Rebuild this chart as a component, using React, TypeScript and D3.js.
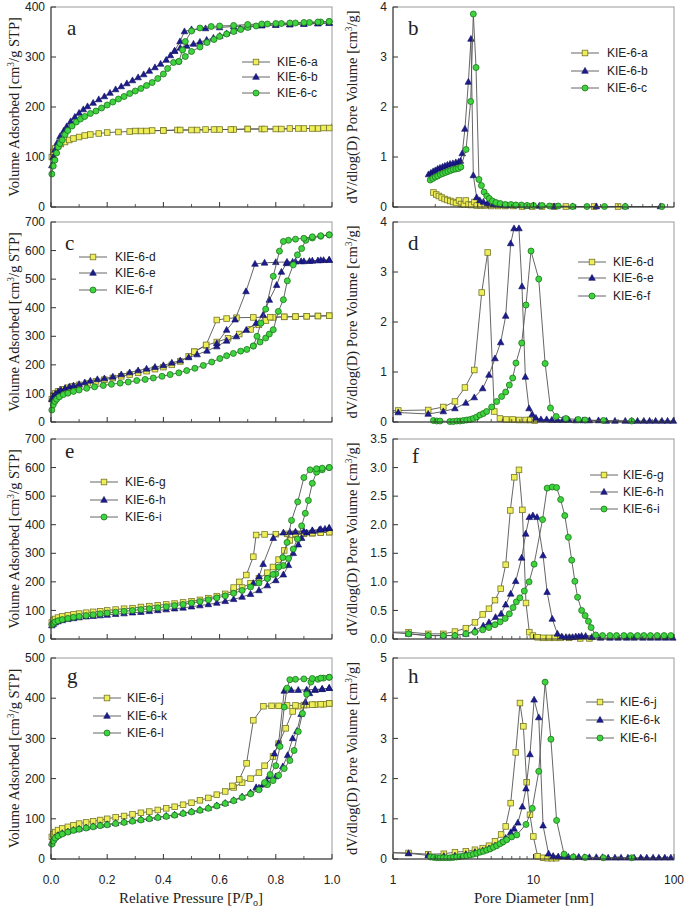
import React from 'react';
import * as d3 from 'd3';

type Pt = [number, number];

// ---------- Panel a : isotherms (P/Po, cm3/g) ----------
const aAds: Pt[] = [[0.003,100],[0.008,110],[0.015,117],[0.025,122],[0.035,126],[0.05,130],[0.065,134],[0.08,137],[0.1,140],[0.12,143],[0.14,145],[0.17,147],[0.2,149],[0.24,150],[0.28,151],[0.32,152],[0.36,153],[0.4,153],[0.45,154],[0.5,154],[0.55,155],[0.6,155],[0.65,155],[0.7,156],[0.75,156],[0.8,156],[0.85,157],[0.9,157],[0.95,157],[0.99,158],[1.03,190]];
const aDes: Pt[] = [[0.97,158],[0.93,157],[0.88,157],[0.82,156],[0.76,156],[0.7,156],[0.64,155],[0.58,155],[0.52,154],[0.46,154],[0.4,153],[0.34,152],[0.3,152]];
const bAds: Pt[] = [[0.003,83],[0.008,100],[0.014,114],[0.022,128],[0.032,141],[0.045,152],[0.056,161],[0.07,171],[0.085,180],[0.1,188],[0.115,195],[0.13,201],[0.15,208],[0.17,215],[0.19,221],[0.21,228],[0.23,235],[0.25,241],[0.27,247],[0.29,253],[0.31,259],[0.33,265],[0.35,272],[0.37,279],[0.39,286],[0.41,294],[0.425,303],[0.44,312],[0.46,318],[0.483,322],[0.507,326],[0.53,330],[0.554,334],[0.578,338],[0.601,342],[0.625,347],[0.649,352],[0.673,357],[0.7,360],[0.75,363],[0.8,364],[0.85,365],[0.9,366],[0.95,367],[0.99,368]];
const bDes: Pt[] = [[0.99,368],[0.95,367],[0.9,366],[0.85,365],[0.8,364],[0.75,363],[0.7,362],[0.65,361],[0.6,359],[0.55,357],[0.5,355],[0.475,351],[0.459,331],[0.44,312]];
const cAds: Pt[] = [[0.003,66],[0.008,82],[0.014,94],[0.02,108],[0.026,120],[0.032,127],[0.04,134],[0.05,145],[0.06,153],[0.075,162],[0.09,170],[0.105,176],[0.12,181],[0.14,187],[0.16,192],[0.18,198],[0.2,204],[0.22,210],[0.24,216],[0.26,221],[0.28,227],[0.3,232],[0.32,237],[0.34,243],[0.36,249],[0.38,257],[0.4,266],[0.415,277],[0.436,289],[0.455,291],[0.478,301],[0.5,311],[0.53,320],[0.555,329],[0.58,335],[0.6,341],[0.625,346],[0.65,351],[0.675,355],[0.7,359],[0.73,362],[0.77,366],[0.82,367],[0.87,368],[0.92,369],[0.96,370],[0.99,371]];
const cDes: Pt[] = [[0.99,371],[0.95,370],[0.9,369],[0.85,368],[0.8,367],[0.75,366],[0.7,365],[0.65,363],[0.6,362],[0.57,361],[0.53,358],[0.5,352],[0.478,331],[0.468,314],[0.455,291]];

// ---------- Panel b : PSD (nm, cm3/g) ----------
const psdA: Pt[] = [[1.94,0.29],[2.03,0.25],[2.12,0.22],[2.22,0.19],[2.33,0.16],[2.44,0.14],[2.56,0.12],[2.68,0.1],[2.81,0.08],[2.95,0.13],[3.05,0.06],[3.2,0.05],[3.3,0.13],[3.45,0.05],[3.6,0.04],[3.8,0.1],[3.95,0.03],[4.2,0.03],[4.5,0.03],[5.0,0.02],[5.6,0.02],[6.3,0.02],[7.2,0.02],[8.3,0.01],[9.8,0.01],[11.5,0.01],[14,0.01],[17,0.01],[27,0.01],[40,0.01]];
const psdB: Pt[] = [[1.79,0.65],[1.86,0.68],[1.93,0.71],[2.0,0.73],[2.08,0.76],[2.16,0.78],[2.25,0.8],[2.34,0.82],[2.44,0.84],[2.55,0.86],[2.67,0.87],[2.8,0.89],[2.93,0.9],[3.02,0.92],[3.11,1.07],[3.25,1.56],[3.44,2.5],[3.59,3.36],[3.73,0.63],[3.94,0.19],[4.15,0.13],[4.4,0.1],[4.7,0.07],[5.2,0.05],[5.8,0.04],[6.5,0.03],[7.5,0.03],[9,0.02],[11,0.02],[14,0.01],[19,0.01],[28,0.01],[45,0.01],[80,0.01]];
const psdC: Pt[] = [[1.84,0.54],[1.92,0.57],[2.0,0.6],[2.08,0.62],[2.17,0.65],[2.26,0.67],[2.36,0.69],[2.46,0.71],[2.57,0.73],[2.68,0.75],[2.8,0.76],[2.92,0.77],[3.04,0.8],[3.31,1.15],[3.57,2.11],[3.73,3.86],[3.9,2.79],[4.09,0.55],[4.26,0.43],[4.45,0.3],[4.65,0.22],[4.85,0.17],[5.1,0.12],[5.4,0.09],[5.8,0.07],[6.3,0.05],[6.9,0.05],[7.5,0.04],[8.2,0.04],[9.0,0.03],[10,0.03],[11.5,0.03],[13,0.02],[15,0.02],[19,0.01],[24,0.01],[32,0.01],[45,0.01],[82,0.01]];

// ---------- Panel c ----------
const dAds: Pt[] = [[0.003,80],[0.008,92],[0.015,100],[0.025,107],[0.04,114],[0.06,120],[0.08,125],[0.1,130],[0.13,136],[0.16,142],[0.19,148],[0.22,154],[0.25,160],[0.28,166],[0.31,172],[0.34,178],[0.37,185],[0.4,192],[0.43,200],[0.46,212],[0.49,230],[0.51,246],[0.552,268],[0.59,280],[0.63,293],[0.67,308],[0.71,324],[0.74,340],[0.765,355],[0.79,366],[0.83,368],[0.87,369],[0.91,370],[0.95,371],[0.99,372]];
const dDes: Pt[] = [[0.99,372],[0.95,371],[0.91,370],[0.87,369],[0.83,368],[0.78,367],[0.72,366],[0.66,365],[0.625,362],[0.59,357],[0.552,270],[0.51,246]];
const eAds: Pt[] = [[0.003,80],[0.008,89],[0.015,98],[0.025,106],[0.035,112],[0.05,118],[0.065,123],[0.08,127],[0.1,132],[0.12,138],[0.14,144],[0.165,149],[0.19,152],[0.22,158],[0.25,166],[0.28,173],[0.31,180],[0.34,186],[0.37,192],[0.4,198],[0.43,207],[0.46,215],[0.49,226],[0.52,236],[0.555,249],[0.59,264],[0.625,284],[0.66,299],[0.695,322],[0.73,346],[0.755,375],[0.777,427],[0.803,479],[0.82,525],[0.838,555],[0.86,560],[0.89,562],[0.92,563],[0.95,565],[0.97,566],[0.99,567]];
const eDes: Pt[] = [[0.99,567],[0.96,566],[0.93,564],[0.9,562],[0.87,561],[0.84,560],[0.8,559],[0.76,557],[0.726,553],[0.694,457],[0.655,358],[0.625,322],[0.59,275]];
const fAds: Pt[] = [[0.003,42],[0.008,60],[0.014,72],[0.02,80],[0.03,88],[0.044,96],[0.06,101],[0.08,107],[0.1,112],[0.127,118],[0.155,123],[0.186,128],[0.215,132],[0.246,136],[0.275,140],[0.305,145],[0.335,149],[0.364,154],[0.395,160],[0.424,166],[0.455,172],[0.483,180],[0.512,188],[0.542,198],[0.572,210],[0.601,222],[0.625,232],[0.649,240],[0.675,248],[0.697,254],[0.72,266],[0.744,280],[0.764,294],[0.777,308],[0.791,323],[0.809,387],[0.827,428],[0.841,494],[0.862,550],[0.877,585],[0.892,607],[0.907,636],[0.93,644],[0.96,650],[0.99,655]];
const fDes: Pt[] = [[0.99,655],[0.96,652],[0.93,648],[0.9,643],[0.87,640],[0.845,636],[0.827,632],[0.813,598],[0.791,510],[0.764,395],[0.747,346],[0.733,300],[0.72,266]];

// ---------- Panel d ----------
const psdD: Pt[] = [[0.9,0.22],[1.09,0.23],[1.78,0.24],[2.28,0.3],[2.76,0.41],[3.25,0.69],[3.79,1.04],[4.28,2.59],[4.72,3.39],[5.26,0.21],[5.77,0.07],[6.4,0.05],[7.1,0.05],[7.9,0.04],[8.8,0.04],[9.5,0.04],[10.2,0.03]];
const psdE: Pt[] = [[0.9,0.2],[1.09,0.19],[1.78,0.16],[2.28,0.21],[2.76,0.27],[3.3,0.38],[3.79,0.49],[4.35,0.67],[4.82,0.94],[5.32,1.27],[5.84,1.59],[6.34,2.12],[6.88,3.57],[7.27,3.87],[7.88,3.87],[8.28,2.71],[8.75,0.9],[9.29,0.27],[9.8,0.15],[10.4,0.08],[11.3,0.05],[12.4,0.05],[13.5,0.04],[14.8,0.04],[16.2,0.04],[17.8,0.04],[20,0.03],[22.5,0.03],[25,0.03],[29,0.03],[33,0.02],[38,0.02],[45,0.02],[50,0.02],[55,0.02],[61,0.02],[67,0.02],[74,0.02],[82,0.02],[90,0.02],[99,0.02]];
const psdF: Pt[] = [[1.94,0.03],[2.05,0.02],[2.16,0.02],[2.54,0.01],[2.69,0.01],[2.85,0.02],[3.0,0.02],[3.17,0.03],[3.35,0.04],[3.54,0.05],[3.73,0.07],[3.94,0.1],[4.16,0.14],[4.4,0.17],[4.64,0.21],[5.04,0.3],[5.47,0.41],[5.93,0.51],[6.34,0.6],[6.73,0.74],[7.11,0.88],[7.5,1.18],[8.24,1.58],[8.84,2.34],[9.6,3.42],[10.9,2.86],[12.1,1.17],[13.2,0.28],[14.5,0.11],[17,0.07],[20.8,0.05],[23.3,0.04],[31.4,0.03],[50,0.02]];

// ---------- Panel e ----------
const gAds: Pt[] = [[0.003,58],[0.008,65],[0.015,70],[0.025,75],[0.04,79],[0.06,83],[0.08,86],[0.1,89],[0.125,92],[0.15,95],[0.175,97],[0.2,100],[0.23,103],[0.26,106],[0.29,108],[0.32,112],[0.35,115],[0.38,118],[0.41,121],[0.44,124],[0.47,128],[0.5,132],[0.53,137],[0.56,143],[0.59,150],[0.62,158],[0.65,168],[0.68,180],[0.71,195],[0.74,212],[0.77,232],[0.79,252],[0.81,278],[0.83,310],[0.85,345],[0.87,365],[0.9,368],[0.93,370],[0.96,372],[0.99,374]];
const gDes: Pt[] = [[0.99,374],[0.96,372],[0.93,371],[0.9,370],[0.87,369],[0.84,368],[0.8,367],[0.76,366],[0.73,364],[0.72,288],[0.695,224],[0.67,200],[0.65,180]];
const hAds: Pt[] = [[0.003,47],[0.008,52],[0.015,57],[0.025,61],[0.04,65],[0.06,69],[0.08,72],[0.1,75],[0.125,78],[0.15,80],[0.175,82],[0.2,84],[0.23,87],[0.26,89],[0.29,92],[0.32,94],[0.35,97],[0.38,100],[0.41,103],[0.44,106],[0.47,109],[0.5,113],[0.53,117],[0.56,121],[0.59,126],[0.62,132],[0.65,139],[0.68,147],[0.71,157],[0.74,170],[0.77,187],[0.8,205],[0.827,225],[0.845,258],[0.862,300],[0.88,330],[0.892,353],[0.91,372],[0.93,378],[0.955,382],[0.975,385],[0.99,388]];
const hDes: Pt[] = [[0.99,388],[0.96,384],[0.93,380],[0.9,377],[0.87,375],[0.85,374],[0.827,372],[0.791,353],[0.755,262],[0.74,218],[0.72,195]];
const iAds: Pt[] = [[0.003,50],[0.008,55],[0.015,60],[0.025,64],[0.04,68],[0.06,72],[0.08,76],[0.1,79],[0.125,82],[0.15,85],[0.175,88],[0.2,91],[0.23,94],[0.26,97],[0.29,100],[0.32,103],[0.35,106],[0.38,109],[0.41,113],[0.44,117],[0.47,121],[0.5,126],[0.53,131],[0.56,137],[0.59,144],[0.62,151],[0.65,160],[0.68,170],[0.71,182],[0.74,196],[0.77,212],[0.8,228],[0.827,257],[0.845,282],[0.862,315],[0.877,350],[0.892,396],[0.905,440],[0.916,485],[0.93,545],[0.945,584],[0.965,592],[0.99,600]];
const iDes: Pt[] = [[0.99,600],[0.965,598],[0.945,596],[0.922,592],[0.9,565],[0.878,480],[0.856,415],[0.84,338],[0.825,285],[0.81,252],[0.79,226],[0.77,212]];

// ---------- Panel f ----------
const psdG: Pt[] = [[0.9,0.12],[1.29,0.12],[1.78,0.09],[2.28,0.09],[2.76,0.13],[3.3,0.19],[3.83,0.29],[4.35,0.43],[4.82,0.53],[5.32,0.68],[5.84,0.88],[6.34,1.3],[6.84,2.25],[7.3,2.83],[7.88,2.96],[8.33,2.26],[8.84,0.63],[9.34,0.12],[9.9,0.06],[10.7,0.03],[11.7,0.02],[12.9,0.02],[14.2,0.02],[15.6,0.02],[17.9,0.02],[21.5,0.01],[25,0.01]];
const psdH: Pt[] = [[0.9,0.12],[1.29,0.09],[1.78,0.06],[2.28,0.06],[2.76,0.06],[3.3,0.09],[3.83,0.15],[4.39,0.23],[4.82,0.29],[5.37,0.38],[5.88,0.44],[6.34,0.6],[6.88,0.79],[7.47,1.01],[8.24,1.42],[8.8,1.84],[9.34,2.13],[9.9,2.16],[10.6,2.13],[11.7,1.46],[12.5,0.82],[13.6,0.35],[14.8,0.09],[15.9,0.04],[17,0.03],[18,0.03],[19,0.03],[20,0.04],[21,0.04],[22,0.05],[23.5,0.05],[26,0.03],[30,0.02],[35,0.02],[40,0.02],[46,0.02],[52,0.02],[60,0.02],[68,0.02],[77,0.02],[87,0.02],[98,0.02]];
const psdI: Pt[] = [[1.29,0.09],[1.78,0.06],[2.28,0.06],[2.76,0.06],[3.3,0.09],[3.83,0.12],[4.35,0.16],[4.82,0.2],[5.32,0.25],[5.79,0.3],[6.29,0.36],[6.73,0.44],[7.15,0.55],[7.55,0.65],[8.0,0.72],[8.6,0.84],[9.3,1.0],[10.1,1.31],[11.6,2.09],[12.5,2.64],[13.6,2.66],[14.6,2.65],[15.6,2.44],[16.7,2.16],[17.7,1.78],[18.7,1.38],[19.7,1.01],[20.6,0.73],[22,0.5],[23.3,0.41],[24.6,0.31],[25.7,0.2],[27.7,0.07],[31,0.06],[35,0.06],[39,0.06],[44,0.06],[49,0.06],[55,0.06],[61,0.06],[68,0.06],[76,0.06],[85,0.06],[95,0.06]];

// ---------- Panel g ----------
const jAds: Pt[] = [[0.003,55],[0.008,62],[0.015,67],[0.025,72],[0.04,76],[0.06,80],[0.08,84],[0.1,88],[0.125,91],[0.15,94],[0.175,97],[0.2,100],[0.23,104],[0.26,107],[0.29,111],[0.32,115],[0.35,118],[0.38,122],[0.41,126],[0.44,130],[0.47,135],[0.5,140],[0.53,146],[0.56,152],[0.59,160],[0.62,168],[0.65,178],[0.68,190],[0.71,200],[0.74,215],[0.76,232],[0.79,255],[0.81,287],[0.835,325],[0.86,367],[0.88,380],[0.91,383],[0.94,384],[0.97,385],[0.99,387]];
const jDes: Pt[] = [[0.99,387],[0.96,385],[0.93,384],[0.9,383],[0.87,382],[0.84,382],[0.81,381],[0.785,381],[0.756,380],[0.72,345],[0.696,238],[0.67,198],[0.645,182]];
const kAds: Pt[] = [[0.003,40],[0.008,48],[0.015,54],[0.025,59],[0.04,64],[0.06,68],[0.08,72],[0.1,75],[0.125,78],[0.15,81],[0.175,84],[0.2,86],[0.23,89],[0.26,92],[0.29,95],[0.32,98],[0.35,101],[0.38,104],[0.41,107],[0.44,110],[0.47,114],[0.5,118],[0.53,122],[0.56,127],[0.59,133],[0.62,139],[0.65,146],[0.68,155],[0.71,165],[0.74,177],[0.77,190],[0.8,205],[0.825,230],[0.842,258],[0.86,300],[0.875,318],[0.89,360],[0.905,390],[0.92,412],[0.94,420],[0.965,422],[0.99,425]];
const kDes: Pt[] = [[0.99,425],[0.965,423],[0.94,422],[0.91,421],[0.88,420],[0.855,420],[0.83,418],[0.81,288],[0.795,262],[0.775,205],[0.755,185],[0.73,178]];
const lAds: Pt[] = [[0.003,37],[0.008,45],[0.015,52],[0.025,57],[0.04,62],[0.06,67],[0.08,71],[0.1,74],[0.125,77],[0.15,80],[0.175,83],[0.2,85],[0.23,88],[0.26,91],[0.29,94],[0.32,97],[0.35,100],[0.38,103],[0.41,106],[0.44,109],[0.47,113],[0.5,117],[0.53,121],[0.56,126],[0.59,132],[0.62,138],[0.65,145],[0.68,153],[0.71,162],[0.74,172],[0.77,185],[0.79,195],[0.81,208],[0.83,225],[0.85,245],[0.865,270],[0.88,317],[0.895,362],[0.91,410],[0.925,440],[0.95,447],[0.97,450],[0.99,452]];
const lDes: Pt[] = [[0.99,452],[0.96,450],[0.93,449],[0.9,448],[0.87,447],[0.85,446],[0.84,425],[0.83,378],[0.815,280],[0.8,232],[0.78,210],[0.76,190]];

// ---------- Panel h ----------
const psdJ: Pt[] = [[0.9,0.16],[1.29,0.15],[1.78,0.12],[2.3,0.13],[2.76,0.17],[3.3,0.19],[3.83,0.23],[4.35,0.27],[4.82,0.33],[5.32,0.44],[5.88,0.61],[6.34,0.81],[6.88,1.39],[7.47,2.65],[8.01,3.88],[8.47,3.3],[8.94,1.91],[9.44,1.1],[9.97,0.56],[10.7,0.07],[11.7,0.03],[12.6,0.02],[13.5,0.02],[14.5,0.02]];
const psdK: Pt[] = [[0.9,0.16],[1.29,0.14],[1.78,0.09],[2.3,0.07],[2.76,0.08],[3.3,0.12],[3.83,0.17],[4.35,0.21],[4.82,0.26],[5.32,0.33],[5.88,0.41],[6.34,0.52],[6.88,0.66],[7.27,0.75],[7.74,0.9],[8.33,1.3],[8.84,1.75],[9.44,2.6],[10.1,3.96],[10.9,3.52],[11.7,0.83],[12.8,0.13],[13.8,0.07],[15,0.06],[16.3,0.06],[17.7,0.05],[19.3,0.05],[21,0.05],[23,0.04],[25,0.04],[28,0.04],[31,0.04],[34,0.03],[38,0.03],[42,0.03],[47,0.03],[52,0.03],[58,0.03],[64,0.03],[71,0.03],[78,0.03],[86,0.03],[95,0.03]];
const psdL: Pt[] = [[1.85,0.05],[1.95,0.04],[2.05,0.03],[2.16,0.03],[2.28,0.03],[2.41,0.03],[2.55,0.03],[2.69,0.04],[2.84,0.05],[3.0,0.06],[3.17,0.07],[3.35,0.08],[3.54,0.1],[3.73,0.12],[3.94,0.14],[4.16,0.17],[4.39,0.19],[4.64,0.22],[4.9,0.25],[5.17,0.29],[5.47,0.33],[5.77,0.38],[6.1,0.43],[6.45,0.48],[7.0,0.55],[7.6,0.6],[8.84,0.86],[9.8,1.26],[10.9,2.18],[12.1,4.4],[13.3,2.98],[14.6,0.96],[16.5,0.12],[19.2,0.05],[23.3,0.04],[31.4,0.03],[50,0.03]];

// ---------- labels / ticks ----------
const leftNames = [['KIE-6-a','KIE-6-b','KIE-6-c'],['KIE-6-d','KIE-6-e','KIE-6-f'],['KIE-6-g','KIE-6-h','KIE-6-i'],['KIE-6-j','KIE-6-k','KIE-6-l']];
const panelLetters = ['a','b','c','d','e','f','g','h'];
const leftYMax = [400, 700, 700, 500];
const rightYMax = [4, 4, 3.5, 5];
const rightYStep = [1, 1, 0.5, 1];
const pressureTicks = [0, 0.2, 0.4, 0.6, 0.8, 1.0];
const poreTicks = [1, 10, 100];

const isoData: Pt[][][][] = [
  [[aAds, aDes], [bAds, bDes], [cAds, cDes]],
  [[dAds, dDes], [eAds, eDes], [fAds, fDes]],
  [[gAds, gDes], [hAds, hDes], [iAds, iDes]],
  [[jAds, jDes], [kAds, kDes], [lAds, lDes]],
];
const psdData: Pt[][][] = [
  [psdA, psdB, psdC],
  [psdD, psdE, psdF],
  [psdG, psdH, psdI],
  [psdJ, psdK, psdL],
];

// ---------- layout ----------
const COLS = [{ x0: 51, x1: 332 }, { x0: 393, x1: 674 }];
const ROWS = [{ y0: 7, y1: 207 }, { y0: 222, y1: 422 }, { y0: 439, y1: 639 }, { y0: 658, y1: 859 }];
const LEGENDS = [
  [{ lx: 242, tx: 277, ys: [62, 77, 93] }, { lx: 571, tx: 607, ys: [53, 71, 88] }],
  [{ lx: 79, tx: 115, ys: [257, 273, 290] }, { lx: 578, tx: 613, ys: [262, 278, 296] }],
  [{ lx: 90, tx: 125, ys: [482, 500, 517] }, { lx: 590, tx: 623, ys: [475, 492, 509] }],
  [{ lx: 93, tx: 127, ys: [698, 716, 733] }, { lx: 586, tx: 620, ys: [702, 720, 738] }],
];
const LETTERS = [
  [{ x: 67, y: 35 }, { x: 408, y: 35 }],
  [{ x: 65, y: 250 }, { x: 408, y: 250 }],
  [{ x: 65, y: 458 }, { x: 412, y: 463 }],
  [{ x: 67, y: 683 }, { x: 408, y: 683 }],
];
const KINDS = ['sq', 'tri', 'ci'];
const STYLE: Record<string, { fill: string; stroke: string }> = {
  sq: { fill: '#eeee58', stroke: '#76762a' },
  tri: { fill: '#1c1c90', stroke: '#0e0e5c' },
  ci: { fill: '#3ed43e', stroke: '#1e741e' },
};
const SANS = 'Liberation Sans, Arial, sans-serif';
const SERIF = 'Liberation Serif, Times New Roman, serif';
const LINE = '#555';

function Marker({ kind, x, y }: { kind: string; x: number; y: number }) {
  const s = STYLE[kind];
  if (kind === 'sq') return <rect x={x - 2.8} y={y - 2.8} width={5.6} height={5.6} fill={s.fill} stroke={s.stroke} strokeWidth={0.8} />;
  if (kind === 'tri') return <path d={`M${x},${y - 3.6}L${x + 3.3},${y + 2.3}L${x - 3.3},${y + 2.3}Z`} fill={s.fill} stroke={s.stroke} strokeWidth={0.6} />;
  return <circle cx={x} cy={y} r={3} fill={s.fill} stroke={s.stroke} strokeWidth={0.8} />;
}

function Panel({ row, col }: { row: number; col: number }) {
  const c = COLS[col], r = ROWS[row];
  const isLog = col === 1;
  const x: any = isLog ? d3.scaleLog().domain([1, 100]).range([c.x0, c.x1]) : d3.scaleLinear().domain([0, 1]).range([c.x0, c.x1]);
  const yMax = isLog ? rightYMax[row] : leftYMax[row];
  const yStep = isLog ? rightYStep[row] : 100;
  const y = d3.scaleLinear().domain([0, yMax]).range([r.y1, r.y0]);
  const line = d3.line<Pt>().x(d => x(d[0])).y(d => y(d[1]));
  const clipId = `clip-${row}-${col}`;
  const yTicks = d3.range(0, yMax + 1e-9, yStep);
  const fmtY = isLog && row === 2 ? d3.format('.1f') : (v: number) => String(v);
  const xDomain = x.domain();
  const inDom = (p: Pt) => p[0] >= xDomain[0] - 1e-9 && p[0] <= xDomain[1] + 1e-9 && p[1] <= yMax;

  const majorX = isLog ? poreTicks : pressureTicks;
  const minorX = isLog
    ? [1, 10].flatMap(dec => d3.range(2, 10).map(k => k * dec))
    : [0.1, 0.3, 0.5, 0.7, 0.9];

  const seriesParts: Pt[][][] = isLog ? psdData[row].map(s => [s]) : isoData[row];
  const leg = LEGENDS[row][col];
  const let_ = LETTERS[row][col];
  const names = leftNames[row];

  return (
    <g>
      <defs>
        <clipPath id={clipId}><rect x={c.x0} y={r.y0} width={c.x1 - c.x0} height={r.y1 - r.y0} /></clipPath>
      </defs>
      <rect x={c.x0} y={r.y0} width={c.x1 - c.x0} height={r.y1 - r.y0} fill="white" stroke="#9a9a9a" strokeWidth={1} />
      {seriesParts.map((parts, si) => (
        <g key={si}>
          {parts.map((pts, pi) => (
            <path key={pi} d={line(pts) || ''} fill="none" stroke={LINE} strokeWidth={0.9} clipPath={`url(#${clipId})`} />
          ))}
          {parts.map((pts, pi) => pts.filter(inDom).map((p, k) => (
            <Marker key={`${pi}-${k}`} kind={KINDS[si]} x={x(p[0])} y={y(p[1])} />
          )))}
        </g>
      ))}
      <line x1={c.x0} x2={c.x0} y1={r.y0} y2={r.y1} stroke="#333" strokeWidth={1} />
      <line x1={c.x0} x2={c.x1} y1={r.y1} y2={r.y1} stroke="#333" strokeWidth={1} />
      {yTicks.map(v => (
        <g key={`yt${v}`}>
          <line x1={c.x0} x2={c.x0 + 5} y1={y(v)} y2={y(v)} stroke="#333" strokeWidth={1} />
          <text x={c.x0 - 6} y={y(v) + 4.2} textAnchor="end" fontFamily={SANS} fontSize={12} fill="#222">{fmtY(v)}</text>
        </g>
      ))}
      {majorX.map(v => (
        <line key={`xt${v}`} x1={x(v)} x2={x(v)} y1={r.y1} y2={r.y1 - 5} stroke="#333" strokeWidth={1} />
      ))}
      {minorX.map(v => (
        <line key={`xm${v}`} x1={x(v)} x2={x(v)} y1={r.y1} y2={r.y1 - 3} stroke="#333" strokeWidth={0.8} />
      ))}
      {row === 3 && majorX.map(v => (
        <text key={`xl${v}`} x={x(v)} y={r.y1 + 25} textAnchor="middle" fontFamily={SANS} fontSize={12} fill="#222">
          {isLog ? String(v) : d3.format('.1f')(v)}
        </text>
      ))}
      {KINDS.map((k, i) => (
        <g key={`lg${k}`}>
          <line x1={leg.lx} x2={leg.lx + 28} y1={leg.ys[i]} y2={leg.ys[i]} stroke={LINE} strokeWidth={0.9} />
          <Marker kind={k} x={leg.lx + 14} y={leg.ys[i]} />
          <text x={leg.tx} y={leg.ys[i] + 4.3} fontFamily={SANS} fontSize={12} fill="#222">{names[i]}</text>
        </g>
      ))}
      <text x={let_.x} y={let_.y} fontFamily={SERIF} fontSize={21} fill="#222">{panelLetters[row * 2 + col]}</text>
      {col === 0 ? (
        <text transform={`translate(19,${(r.y0 + r.y1) / 2}) rotate(-90)`} textAnchor="middle" fontFamily={SERIF} fontSize={14.5} fill="#222">
          Volume Adsorbed [cm<tspan dy={-5} fontSize={9.5}>3</tspan><tspan dy={5}>/g STP]</tspan>
        </text>
      ) : (
        <text transform={`translate(357,${(r.y0 + r.y1) / 2}) rotate(-90)`} textAnchor="middle" fontFamily={SERIF} fontSize={14.5} fill="#222">
          dV/dlog(D) Pore Volume [cm<tspan dy={-5} fontSize={9.5}>3</tspan><tspan dy={5}>/g]</tspan>
        </text>
      )}
    </g>
  );
}

export default function App() {
  return (
    <svg width={685} height={908} style={{ position: 'absolute', left: 0, top: 0, background: 'white' }}>
      <rect x={0} y={0} width={685} height={908} fill="white" />
      {[0, 1, 2, 3].map(row => [0, 1].map(col => <Panel key={`${row}-${col}`} row={row} col={col} />))}
      <text x={191} y={903} textAnchor="middle" fontFamily={SERIF} fontSize={15} fill="#222">
        Relative Pressure [P/P<tspan dy={3} fontSize={10}>o</tspan><tspan dy={-3}>]</tspan>
      </text>
      <text x={534} y={903} textAnchor="middle" fontFamily={SERIF} fontSize={15} fill="#222">Pore Diameter [nm]</text>
    </svg>
  );
}
